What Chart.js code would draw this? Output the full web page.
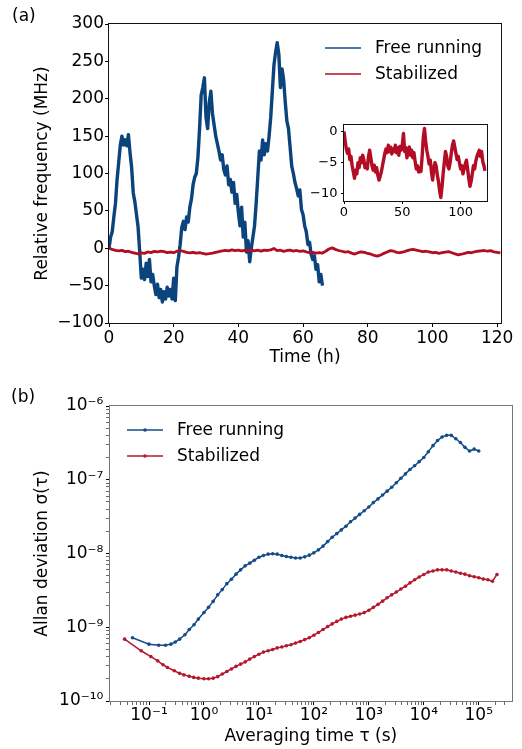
<!DOCTYPE html>
<html>
<head>
<meta charset="utf-8">
<script src="https://cdn.jsdelivr.net/npm/chart.js@4.4.0/dist/chart.umd.min.js"></script>
<style>
  body { margin: 0; background: #fff; }
  #wrap { position: relative; width: 522px; height: 749px; overflow: hidden; font-family: "DejaVu Sans", sans-serif; }
  canvas { position: absolute; }
  .tag { position: absolute; font-size: 17px; line-height: 20px; color: #000; }
</style>
</head>
<body>
<div id="wrap">
  <canvas id="freqCanvas" width="522" height="372" style="left:0px;top:0px"></canvas>
  <canvas id="insetCanvas" width="210" height="120" style="left:290px;top:110px"></canvas>
  <canvas id="allanCanvas" width="522" height="377" style="left:0px;top:372px"></canvas>
  <div class="tag" style="left:12px;top:5px">(a)</div>
  <div class="tag" style="left:11px;top:386px">(b)</div>
</div>
<script>
// (a) relative frequency (MHz)
const freeStepH = 0.5; // h between samples
const freeRunning = [
  0, 15, 22, 42, 60, 92, 115, 138, 150, 138, 145, 137, 152, 128, 108, 74, 62, 45, 28, -5,
  -40, -28, -42, -20, -38, -15, -45, -35, -50, -62, -48, -66, -55, -72, -58, -68, -52, -64, -55, -68,
  -40, -70, -25, -12, 5, 28, 36, 25, 42, 35, 55, 66, 85, 95, 100, 122, 160, 205, 215, 228,
  175, 160, 195, 210, 180, 165, 150, 140, 130, 118, 125, 105, 98, 110, 85, 92, 75, 88, 60, 72,
  48, 30, 55, 15, 35, -5, 10, -18, 0, 15, 30, 60, 95, 130, 118, 145, 125, 140, 130, 150,
  175, 210, 245, 262, 275, 260, 215, 240, 225, 195, 170, 160, 135, 110, 100, 88, 80, 70, 78, 52,
  45, 30, 22, 5, 8, -8, -15, -10, -28, -22, -45, -35, -50
];
const stabStepH = 1;
const stabilized = [
  0, -1.5, -2.8, -3.5, -2.8, -4.5, -4, -5.5, -6.5, -7.5, -6.2, -6.8, -5, -5.8, -4.2, -5, -3.8, -4.5, -5.8, -5.2,
  -6, -4, -3, -4.2, -5.5, -6.2, -5.4, -6.5, -5.8, -7, -7.8, -7.2, -6.5, -5.5, -4.5, -3.5, -2.8, -3.4, -2.2, -3.2,
  -2.5, -3.6, -2.8, -3.2, -2.2, -3.4, -2.6, -3.8, -2.4, -3, -2.2, -0.3, -3.2, -2.6, -4.2, -3, -2.5, -3.8, -3, -4.2,
  -3.4, -4.8, -6, -5.5, -6.5, -5.8, -6.4, -4, -1, 0.5, -1.5, -3, -4, -5.2, -4.6, -6.5, -7.8, -6, -5, -5.5,
  -7, -8, -9.5, -10.6, -9, -6.8, -5, -3.2, -4, -5.5, -6, -5, -3.5, -2.2, -1.5, -2.5, -3.5, -4.5, -4, -5,
  -6, -5.5, -6.8, -6, -5.2, -4.6, -6, -7.5, -8.8, -8, -6.8, -5.5, -6, -4.8, -4, -3.5, -3, -4, -3.2, -4.8,
  -5.5, -6.3
];
const freqTicks = [-100, -50, 0, 50, 100, 150, 200, 250, 300];
const timeTicks = [0, 20, 40, 60, 80, 100, 120];
const insetFreqTicks = [-10, -5, 0];
const insetTimeTicks = [0, 50, 100];

// (b) Allan deviation
const tauFree = [0.05, 0.1, 0.15, 0.2, 0.25, 0.3, 0.36, 0.45, 0.54, 0.66, 0.79,
  1, 1.21, 1.47, 1.78, 2.15, 2.61, 3.16, 3.83, 4.64, 5.62, 6.81, 8.25,
  10, 12.1, 14.7, 17.8, 21.5, 26.1, 31.6, 38.3, 46.4, 56.2, 68.1, 82.5,
  100, 121, 147, 178, 215, 261, 316, 383, 464, 562, 681, 825,
  1000, 1210, 1470, 1780, 2150, 2610, 3160, 3830, 4640, 5620, 6810, 8250,
  1e4, 1.21e4, 1.47e4, 1.78e4, 2.15e4, 2.61e4, 3.16e4, 3.83e4, 4.64e4, 5.62e4, 6.81e4, 8.25e4, 1e5];
const adevFree = [7.2e-10, 5.9e-10, 5.7e-10, 5.7e-10, 5.9e-10, 6.3e-10, 6.9e-10, 7.9e-10, 9.3e-10, 1.08e-9, 1.29e-9,
  1.58e-9, 1.86e-9, 2.24e-9, 2.75e-9, 3.24e-9, 3.9e-9, 4.47e-9, 5.25e-9, 6.0e-9, 6.8e-9, 7.4e-9, 8.1e-9,
  8.9e-9, 9.4e-9, 9.8e-9, 9.9e-9, 9.8e-9, 9.4e-9, 9.1e-9, 8.9e-9, 8.7e-9, 8.7e-9, 9.0e-9, 9.5e-9,
  1.02e-8, 1.12e-8, 1.26e-8, 1.45e-8, 1.66e-8, 1.86e-8, 2.09e-8, 2.34e-8, 2.69e-8, 3.02e-8, 3.39e-8, 3.8e-8,
  4.27e-8, 4.9e-8, 5.5e-8, 6.2e-8, 7.0e-8, 7.9e-8, 9.1e-8, 1.05e-7, 1.2e-7, 1.38e-7, 1.55e-7, 1.76e-7,
  2.0e-7, 2.4e-7, 2.9e-7, 3.4e-7, 3.8e-7, 4.0e-7, 4.0e-7, 3.6e-7, 3.2e-7, 2.75e-7, 2.45e-7, 2.6e-7, 2.45e-7];
const tauStab = [0.036, 0.072, 0.108, 0.144, 0.18, 0.216, 0.288, 0.36, 0.43, 0.54, 0.65, 0.79,
  1, 1.21, 1.47, 1.78, 2.15, 2.61, 3.16, 3.83, 4.64, 5.62, 6.81, 8.25,
  10, 12.1, 14.7, 17.8, 21.5, 26.1, 31.6, 38.3, 46.4, 56.2, 68.1, 82.5,
  100, 121, 147, 178, 215, 261, 316, 383, 464, 562, 681, 825,
  1000, 1210, 1470, 1780, 2150, 2610, 3160, 3830, 4640, 5620, 6810, 8250,
  1e4, 1.21e4, 1.47e4, 1.78e4, 2.15e4, 2.61e4, 3.16e4, 3.83e4, 4.64e4, 5.62e4, 6.81e4, 8.25e4,
  1e5, 1.21e5, 1.47e5, 1.78e5, 2.15e5];
const adevStab = [6.9e-10, 4.8e-10, 4.0e-10, 3.5e-10, 3.1e-10, 2.85e-10, 2.57e-10, 2.37e-10, 2.26e-10, 2.16e-10, 2.09e-10, 2.04e-10,
  2.0e-10, 2.0e-10, 2.04e-10, 2.14e-10, 2.32e-10, 2.51e-10, 2.72e-10, 2.95e-10, 3.16e-10, 3.39e-10, 3.7e-10, 4.0e-10,
  4.3e-10, 4.6e-10, 4.8e-10, 5.0e-10, 5.25e-10, 5.4e-10, 5.6e-10, 5.8e-10, 6.1e-10, 6.4e-10, 6.8e-10, 7.2e-10,
  7.8e-10, 8.5e-10, 9.3e-10, 1.02e-9, 1.11e-9, 1.2e-9, 1.29e-9, 1.36e-9, 1.41e-9, 1.46e-9, 1.51e-9, 1.58e-9,
  1.7e-9, 1.86e-9, 2.04e-9, 2.26e-9, 2.51e-9, 2.75e-9, 3.0e-9, 3.3e-9, 3.6e-9, 4.0e-9, 4.4e-9, 4.8e-9,
  5.2e-9, 5.6e-9, 5.8e-9, 6.0e-9, 6.0e-9, 6.0e-9, 5.8e-9, 5.6e-9, 5.4e-9, 5.25e-9, 5.0e-9, 4.85e-9,
  4.7e-9, 4.5e-9, 4.4e-9, 4.2e-9, 5.2e-9];
const seriesNames = ['Free running', 'Stabilized'];

const BLUE = '#0b437c', RED = '#b20d24';
const FONT = '"DejaVu Sans", sans-serif';
Chart.defaults.font.family = FONT;
Chart.defaults.color = '#000';
Chart.defaults.animation = false;

const minus = v => String(v).replace('-', '\u2212');
const SUP = {'-': '\u207b', '0': '\u2070', '1': '\u00b9', '2': '\u00b2', '3': '\u00b3', '4': '\u2074',
  '5': '\u2075', '6': '\u2076', '7': '\u2077', '8': '\u2078', '9': '\u2079'};
function powLabel(v) {
  const l = Math.log10(v), e = Math.round(l);
  if (Math.abs(l - e) > 1e-6) return '';
  return '10' + String(e).split('').map(c => SUP[c]).join('');
}
function logTicks(min, max) {
  const out = [];
  for (let e = Math.floor(Math.log10(min)); e <= Math.ceil(Math.log10(max)); e++) {
    for (let m = 1; m <= 9; m++) {
      const v = m * Math.pow(10, e);
      if (v >= min * 0.999 && v <= max * 1.001) out.push({value: v});
    }
  }
  return out;
}
const setTicks = list => s => { s.ticks = list.map(v => ({value: v})); };

// box round the plot area, plus an optional white fill under it
const frame = {
  id: 'frame',
  beforeDraw(chart, args, o) {
    if (!o.fill) return;
    const a = chart.chartArea;
    chart.ctx.save();
    chart.ctx.fillStyle = o.fill;
    chart.ctx.fillRect(a.left, a.top, a.right - a.left, a.bottom - a.top);
    chart.ctx.restore();
  },
  afterDatasetsDraw(chart, args, o) {
    const a = chart.chartArea, ctx = chart.ctx;
    ctx.save();
    ctx.strokeStyle = o.color || '#000';
    ctx.lineWidth = o.width || 1;
    ctx.strokeRect(Math.round(a.left) - 0.5, Math.round(a.top) - 0.5,
      Math.round(a.right - a.left) + 1, Math.round(a.bottom - a.top) + 1);
    ctx.restore();
  }
};

// legend drawn inside the axes
const boxLegend = {
  id: 'boxLegend',
  afterDraw(chart, args, o) {
    if (!o.items) return;
    const ctx = chart.ctx;
    ctx.save();
    ctx.font = '17px ' + FONT;
    ctx.textBaseline = 'middle';
    o.items.forEach((it, i) => {
      const y = o.y + i * o.gap;
      ctx.strokeStyle = it.color;
      ctx.lineWidth = o.lineWidth;
      ctx.beginPath();
      ctx.moveTo(o.x, y);
      ctx.lineTo(o.x + o.len, y);
      ctx.stroke();
      if (o.dot) {
        ctx.fillStyle = it.color;
        ctx.beginPath();
        ctx.arc(o.x + o.len / 2, y, o.dot, 0, Math.PI * 2);
        ctx.fill();
      }
      ctx.fillStyle = '#000';
      ctx.fillText(it.label, o.x + o.textDx, y + 1);
    });
    ctx.restore();
  }
};

const freePts = freeRunning.map((v, i) => ({x: i * freeStepH, y: v}));
const stabPts = stabilized.map((v, i) => ({x: i * stabStepH, y: v}));

new Chart(document.getElementById('freqCanvas'), {
  type: 'line',
  data: {
    datasets: [
      {label: seriesNames[0], data: freePts, borderColor: BLUE, borderWidth: 3.4, pointRadius: 0,
        borderJoinStyle: 'round', order: 1},
      {label: seriesNames[1], data: stabPts, borderColor: RED, borderWidth: 2.8, pointRadius: 0,
        borderJoinStyle: 'round', order: 0}
    ]
  },
  options: {
    responsive: false,
    layout: {padding: {top: 24, right: 21, left: 0, bottom: 0}},
    plugins: {
      legend: {display: false},
      tooltip: {enabled: false},
      frame: {color: '#111'},
      boxLegend: {x: 325, y: 48, gap: 26, len: 36, textDx: 50, lineWidth: 2,
        items: [{label: seriesNames[0], color: '#4a79ab'}, {label: seriesNames[1], color: '#cc4658'}]}
    },
    scales: {
      x: {
        type: 'linear', min: 0, max: 121.2,
        afterBuildTicks: setTicks(timeTicks),
        afterFit: s => { s.height = 49; },
        grid: {drawOnChartArea: false, tickLength: 4, color: '#000'},
        border: {display: false},
        ticks: {font: {size: 17}, padding: 1, maxRotation: 0, autoSkip: false},
        title: {display: true, text: 'Time (h)', font: {size: 17}, padding: {top: 0, bottom: 4}}
      },
      y: {
        min: -100, max: 300,
        afterBuildTicks: setTicks(freqTicks),
        afterFit: s => { s.width = 109; },
        grid: {drawOnChartArea: false, tickLength: 4, color: '#000'},
        border: {display: false},
        ticks: {font: {size: 17}, padding: 1, autoSkip: false, callback: v => minus(v)},
        title: {display: true, text: 'Relative frequency (MHz)', font: {size: 17}, padding: {top: 32, bottom: 0}}
      }
    }
  },
  plugins: [frame, boxLegend]
});

new Chart(document.getElementById('insetCanvas'), {
  type: 'line',
  data: {datasets: [{label: seriesNames[1], data: stabPts, borderColor: RED, borderWidth: 3.4, pointRadius: 0,
    borderJoinStyle: 'round'}]},
  options: {
    responsive: false,
    layout: {padding: {top: 15, right: 13.5, left: 0, bottom: 0}},
    plugins: {legend: {display: false}, tooltip: {enabled: false}, frame: {color: '#111', fill: '#fff'}},
    scales: {
      x: {
        type: 'linear', min: 0, max: 122.2,
        afterBuildTicks: setTicks(insetTimeTicks),
        afterFit: s => { s.height = 29; },
        grid: {drawOnChartArea: false, tickLength: 3, color: '#000'},
        border: {display: false},
        ticks: {font: {size: 13}, padding: 1, maxRotation: 0, autoSkip: false}
      },
      y: {
        min: -11.15, max: 1.05,
        afterBuildTicks: setTicks(insetFreqTicks),
        afterFit: s => { s.width = 54; },
        grid: {drawOnChartArea: false, tickLength: 3, color: '#000'},
        border: {display: false},
        ticks: {font: {size: 13}, padding: 3.5, autoSkip: false, callback: v => minus(v)}
      }
    }
  },
  plugins: [frame]
});

const XMIN = 0.0195, XMAX = 3.98e5, YMIN = 1e-10, YMAX = 1e-6;
new Chart(document.getElementById('allanCanvas'), {
  type: 'line',
  data: {
    datasets: [
      {label: seriesNames[0], data: tauFree.map((t, i) => ({x: t, y: adevFree[i]})),
        borderColor: '#144c88', backgroundColor: '#144c88', borderWidth: 1.5, pointRadius: 1.8, pointBorderWidth: 0},
      {label: seriesNames[1], data: tauStab.map((t, i) => ({x: t, y: adevStab[i]})),
        borderColor: '#b5172d', backgroundColor: '#b5172d', borderWidth: 1.5, pointRadius: 1.8, pointBorderWidth: 0}
    ]
  },
  options: {
    responsive: false,
    layout: {padding: {top: 34, right: 10.3, left: 0, bottom: 0}},
    plugins: {
      legend: {display: false},
      tooltip: {enabled: false},
      frame: {color: '#777'},
      boxLegend: {x: 127, y: 58, gap: 26, len: 36, textDx: 50, lineWidth: 1.5, dot: 1.8,
        items: [{label: seriesNames[0], color: '#144c88'}, {label: seriesNames[1], color: '#b5172d'}]}
    },
    scales: {
      x: {
        type: 'logarithmic', min: XMIN, max: XMAX,
        afterBuildTicks: s => { s.ticks = logTicks(XMIN, XMAX); },
        afterFit: s => { s.height = 48; },
        grid: {drawOnChartArea: false, tickLength: 4, color: '#000',
          tickWidth: c => (c.tick && powLabel(c.tick.value) ? 1 : 0.6)},
        border: {display: false},
        ticks: {font: {size: 17}, padding: 0, maxRotation: 0, minRotation: 0, autoSkip: false, callback: v => powLabel(v)},
        title: {display: true, text: 'Averaging time \u03c4 (s)', font: {size: 17}, padding: {top: 0, bottom: 2}}
      },
      y: {
        type: 'logarithmic', min: YMIN, max: YMAX,
        afterBuildTicks: s => { s.ticks = logTicks(YMIN, YMAX); },
        afterFit: s => { s.width = 110; },
        grid: {drawOnChartArea: false, tickLength: 4, color: '#000',
          tickWidth: c => (c.tick && powLabel(c.tick.value) ? 1 : 0.6)},
        border: {display: false},
        ticks: {font: {size: 17}, padding: 2.7, autoSkip: false, callback: v => powLabel(v)},
        title: {display: true, text: 'Allan deviation \u03c3(\u03c4)', font: {size: 17}, padding: {top: 32, bottom: 0}}
      }
    }
  },
  plugins: [frame, boxLegend]
});
</script>
</body>
</html>
